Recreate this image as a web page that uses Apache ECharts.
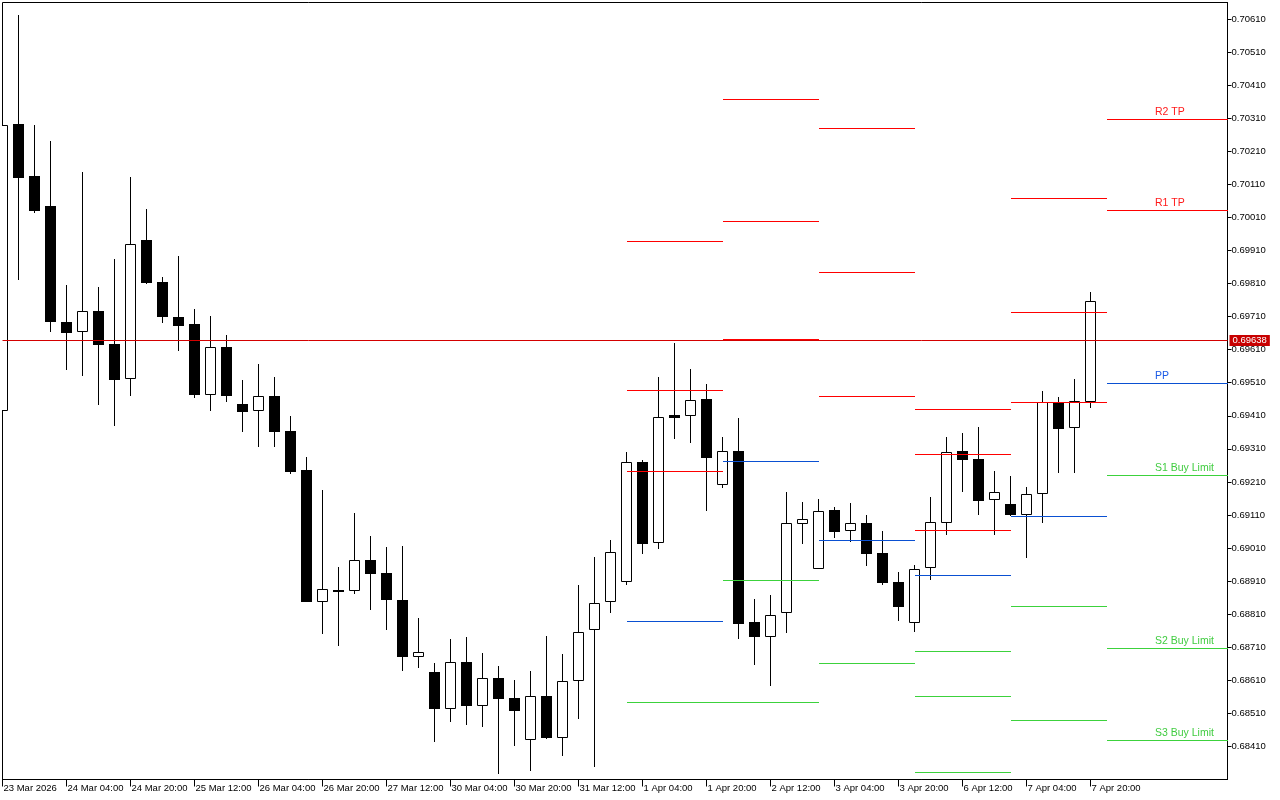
<!DOCTYPE html>
<html><head><meta charset="utf-8">
<script src="https://cdn.jsdelivr.net/npm/echarts@6/dist/echarts.min.js"></script>
<style>html,body{margin:0;padding:0;background:#fff}#c{width:1280px;height:800px}</style>
</head><body><div id="c"></div>
<script>
// ---- candle times (H4, weekends skipped) ----
const tradingDays = ['23 Mar','24 Mar','25 Mar','26 Mar','27 Mar','30 Mar','31 Mar','1 Apr','2 Apr','3 Apr','6 Apr','7 Apr'];
const barHours = ['00:00','04:00','08:00','12:00','16:00','20:00'];
const firstBarHour = '12:00';

const opens = [0.69423,0.70294,0.70135,0.70044,0.69693,0.69662,0.69727,0.69627,0.69520,0.69941,
0.69814,0.69708,0.69687,0.69474,0.69618,0.69445,0.69426,0.69469,0.69363,0.69245,
0.68848,0.68884,0.68881,0.68975,0.68934,0.68852,0.68682,0.68634,0.68524,0.68664,
0.68533,0.68618,0.68555,0.68428,0.68564,0.68437,0.68609,0.68763,0.68848,0.68906,
0.69269,0.69024,0.69412,0.69408,0.69460,0.69202,0.69303,0.68786,0.68742,0.68815,
0.69084,0.68948,0.69124,0.69063,0.69085,0.68994,0.68907,0.68782,0.68951,0.69087,
0.69305,0.69278,0.69154,0.69142,0.69110,0.69172,0.69453,0.69372,0.69453];
const closes = [0.70291,0.70130,0.70030,0.69694,0.69661,0.69726,0.69625,0.69519,0.69931,0.69812,
0.69709,0.69682,0.69473,0.69617,0.69470,0.69422,0.69471,0.69361,0.69239,0.68847,
0.68887,0.68881,0.68975,0.68932,0.68854,0.68681,0.68697,0.68523,0.68664,0.68532,
0.68618,0.68553,0.68517,0.68564,0.68435,0.68609,0.68757,0.68845,0.68997,0.69269,
0.69022,0.69405,0.69404,0.69459,0.69283,0.69305,0.68780,0.68741,0.68809,0.69087,
0.69099,0.69123,0.69059,0.69087,0.68992,0.68904,0.68832,0.68948,0.69090,0.69302,
0.69277,0.69153,0.69181,0.69110,0.69172,0.69453,0.69370,0.69456,0.69756];
const lows = [0.69422,0.69822,0.70024,0.69664,0.69550,0.69531,0.69443,0.69379,0.69470,0.69809,
0.69691,0.69606,0.69464,0.69425,0.69452,0.69361,0.69316,0.69315,0.69233,0.68846,
0.68750,0.68714,0.68871,0.68823,0.68762,0.68638,0.68647,0.68423,0.68484,0.68475,
0.68469,0.68326,0.68411,0.68336,0.68434,0.68381,0.68493,0.68348,0.68814,0.68899,
0.68992,0.69007,0.69340,0.69328,0.69122,0.69192,0.68735,0.68656,0.68593,0.68753,
0.69022,0.68947,0.69041,0.69028,0.68956,0.68898,0.68789,0.68756,0.68913,0.69049,
0.69180,0.69110,0.69049,0.69106,0.68980,0.69086,0.69237,0.69237,0.69434];
const highs = [0.70292,0.70622,0.70289,0.70241,0.69805,0.70147,0.69799,0.69884,0.70132,0.70035,
0.69829,0.69893,0.69733,0.69711,0.69654,0.69518,0.69566,0.69527,0.69409,0.69285,
0.69185,0.68952,0.69117,0.69046,0.69012,0.69015,0.68798,0.68661,0.68734,0.68740,
0.68692,0.68652,0.68610,0.68637,0.68744,0.68689,0.68897,0.68982,0.69034,0.69300,
0.69275,0.69527,0.69630,0.69551,0.69506,0.69345,0.69403,0.68855,0.68867,0.69179,
0.69149,0.69158,0.69133,0.69146,0.69109,0.69061,0.68937,0.68958,0.69164,0.69345,
0.69357,0.69376,0.69242,0.69227,0.69196,0.69484,0.69466,0.69521,0.69784];

// ---- axis ticks ----
const xTickTimes = ['23 Mar 12:00','24 Mar 04:00','24 Mar 20:00','25 Mar 12:00','26 Mar 04:00','26 Mar 20:00',
'27 Mar 12:00','30 Mar 04:00','30 Mar 20:00','31 Mar 12:00','1 Apr 04:00','1 Apr 20:00','2 Apr 12:00',
'3 Apr 04:00','3 Apr 20:00','6 Apr 12:00','7 Apr 04:00','7 Apr 20:00'];
const xTickLabels = ['23 Mar 2026','24 Mar 04:00','24 Mar 20:00','25 Mar 12:00','26 Mar 04:00','26 Mar 20:00',
'27 Mar 12:00','30 Mar 04:00','30 Mar 20:00','31 Mar 12:00','1 Apr 04:00','1 Apr 20:00','2 Apr 12:00',
'3 Apr 04:00','3 Apr 20:00','6 Apr 12:00','7 Apr 04:00','7 Apr 20:00'];
const yTickLabels = ['0.68410','0.68510','0.68610','0.68710','0.68810','0.68910','0.69010','0.69110',
'0.69210','0.69310','0.69410','0.69510','0.69610','0.69710','0.69810','0.69910','0.70010','0.70110',
'0.70210','0.70310','0.70410','0.70510','0.70610'];

// ---- daily pivot levels (one per day, from the day's first bar) ----
const pivotDayStart = [39, 45, 51, 57, 63, 69];
const R3 = [0.69938, 0.70368, 0.70280, 0.69430, 0.70068, null];
const R2 = [0.69488, 0.69999, 0.69842, 0.69294, 0.69723, 0.70307];
const R1 = [0.69242, 0.69641, 0.69469, 0.69064, 0.69451, 0.70032];
const PP = [0.68789, 0.69273, 0.69034, 0.68928, 0.69106, 0.69509];
const S1 = [0.68543, 0.68913, 0.68661, 0.68698, 0.68834, 0.69230];
const S2 = [null, 0.68543, null, 0.68562, 0.68489, 0.68707];
const S3 = [null, null, null, 0.68332, null, 0.68428];
const levelNames = ['R2 TP', 'R1 TP', 'PP', 'S1 Buy Limit', 'S2 Buy Limit', 'S3 Buy Limit'];
const bidPrice = 0.69638;

// ---- build ----
const candleTimes = [];
tradingDays.forEach((d, k) => {
  barHours.forEach(h => { if (k > 0 || h >= firstBarHour) candleTimes.push(d + ' ' + h); });
});
const candleRows = opens.map((o, i) => [i, o, closes[i], lows[i], highs[i]]);
const xTickPos = xTickTimes.map(t => candleTimes.indexOf(t));
const xLabelMap = {};
xTickPos.forEach((p, k) => { xLabelMap[p] = xTickLabels[k]; });
const yTickValues = yTickLabels.map(Number);

const X_MAX = 76.5625;
const COLORS = ['#ff0000', '#0a50d2', '#3cd23c'];
const TEXT_COLORS = ['#ff1a1a', '#1a5ae6', '#40cc40'];
const levelSets = [[R3, 0], [R2, 0], [R1, 0], [PP, 1], [S1, 2], [S2, 2], [S3, 2]];
const pivotRows = [];
levelSets.forEach(([arr, c]) => {
  arr.forEach((v, d) => {
    if (v == null) return;
    const s = pivotDayStart[d];
    const e = d + 1 < pivotDayStart.length ? pivotDayStart[d + 1] : X_MAX;
    pivotRows.push([s, e, v, c]);
  });
});
const lastDay = pivotDayStart.length - 1;
const labelX = pivotDayStart[lastDay] + 3;
const lastLevels = [[R2, 0], [R1, 0], [PP, 1], [S1, 2], [S2, 2], [S3, 2]];
const labelRows = lastLevels.map(([arr, c]) => [labelX, arr[lastDay], c]);

const px = v => Math.round(v - 0.5) + 0.5;

function renderCandle(params, api) {
  const i = api.value(0), o = api.value(1), c = api.value(2), l = api.value(3), h = api.value(4);
  const pO = api.coord([i, o]), pC = api.coord([i, c]);
  const yH = api.coord([i, h])[1], yL = api.coord([i, l])[1];
  const cx = px(pO[0]);
  const top = Math.round(Math.min(pO[1], pC[1])), bot = Math.round(Math.max(pO[1], pC[1]));
  const children = [{ type: 'line', shape: { x1: cx, y1: Math.round(yH), x2: cx, y2: Math.round(yL) },
    style: { stroke: '#000', lineWidth: 1 } }];
  if (c >= o) {
    children.push({ type: 'rect', shape: { x: cx - 5, y: top + 0.5, width: 10, height: Math.max(bot - top - 1, 1) },
      style: { fill: '#fff', stroke: '#000', lineWidth: 1 } });
  } else {
    children.push({ type: 'rect', shape: { x: cx - 5.5, y: top, width: 11, height: Math.max(bot - top, 2) },
      style: { fill: '#000' } });
  }
  return { type: 'group', children };
}
function renderPivot(params, api) {
  const p1 = api.coord([api.value(0), api.value(2)]);
  const p2 = api.coord([api.value(1), api.value(2)]);
  const y = px(p1[1]);
  return { type: 'line', shape: { x1: Math.round(p1[0]), y1: y, x2: Math.round(p2[0]), y2: y },
    style: { stroke: COLORS[api.value(3)], lineWidth: 1 } };
}
function renderLabel(params, api) {
  const p = api.coord([api.value(0), api.value(1)]);
  return { type: 'text', x: Math.round(p[0]), y: Math.round(p[1]) - 1,
    style: { text: levelNames[params.dataIndex], fill: TEXT_COLORS[api.value(2)],
      font: '10.5px "Liberation Sans"', align: 'left', verticalAlign: 'bottom' } };
}
function renderBid(params, api) {
  const cs = params.coordSys;
  const y = px(api.coord([0, api.value(1)])[1]);
  return { type: 'group', children: [
    { type: 'line', shape: { x1: cs.x, y1: y, x2: cs.x + cs.width, y2: y }, style: { stroke: '#d40000', lineWidth: 1 } },
    { type: 'text', x: cs.x + cs.width + 2, y: y,
      style: { text: api.value(1).toFixed(5), fill: '#fff', backgroundColor: '#c80000', padding: [1, 3, 0, 3],
        font: '9.5px "Liberation Sans"', align: 'left', verticalAlign: 'middle' } }
  ] };
}

const chart = echarts.init(document.getElementById('c'), null, { renderer: 'canvas' });
chart.setOption({
  animation: false,
  backgroundColor: '#fff',
  grid: { left: 2.5, right: 52.5, top: 2.5, bottom: 20.5, show: true, borderColor: '#000', borderWidth: 1, containLabel: false },
  xAxis: {
    type: 'value', min: 0, max: X_MAX, position: 'bottom',
    splitLine: { show: false },
    axisLine: { show: true, onZero: false, lineStyle: { color: '#000', width: 1 } },
    axisTick: { show: true, customValues: xTickPos, length: 7, lineStyle: { color: '#000' } },
    axisLabel: { customValues: xTickPos, formatter: v => xLabelMap[Math.round(v)] || '', align: 'left', margin: 4,
      color: '#000', fontSize: 9.5, fontFamily: 'Liberation Sans', padding: [0, 0, 0, 1] }
  },
  yAxis: {
    type: 'value', position: 'right', min: 0.68310, max: 0.70660,
    splitLine: { show: false },
    axisLine: { show: true, onZero: false, lineStyle: { color: '#000', width: 1 } },
    axisTick: { show: true, customValues: yTickValues, length: 4, lineStyle: { color: '#000' } },
    axisLabel: { customValues: yTickValues, formatter: v => v.toFixed(5), margin: 4,
      color: '#000', fontSize: 9.5, fontFamily: 'Liberation Sans' }
  },
  series: [
    { type: 'custom', name: 'candles', renderItem: renderCandle, data: candleRows, clip: true, z: 2,
      encode: { x: 0, y: [1, 2, 3, 4] } },
    { type: 'custom', name: 'pivots', renderItem: renderPivot, data: pivotRows, clip: true, z: 3,
      encode: { x: [0, 1], y: 2 } },
    { type: 'custom', name: 'bid', renderItem: renderBid, data: [[0, bidPrice]], clip: false, z: 4,
      encode: { x: 0, y: 1 } },
    { type: 'custom', name: 'labels', renderItem: renderLabel, data: labelRows, clip: false, z: 5,
      encode: { x: 0, y: 1 } }
  ]
});
</script>
</body></html>
